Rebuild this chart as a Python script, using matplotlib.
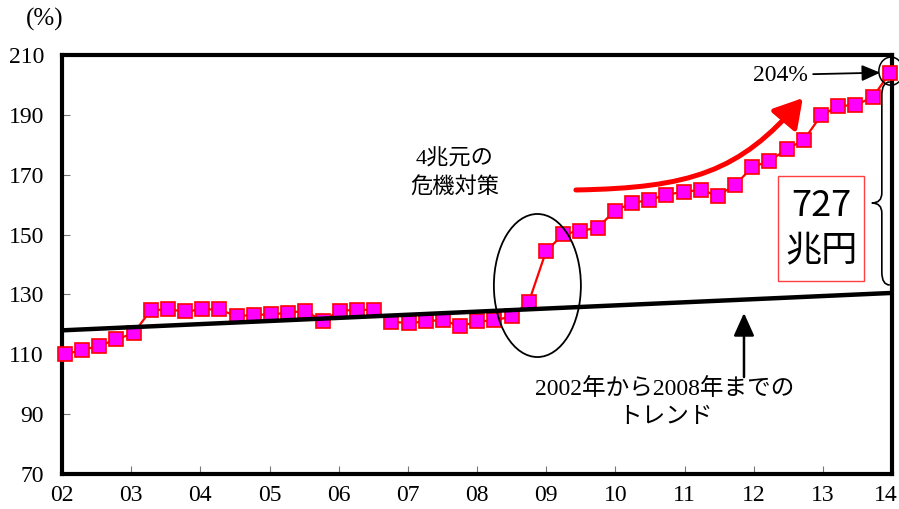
import matplotlib
matplotlib.use("Agg")
import matplotlib.pyplot as plt
import matplotlib.transforms as mtransforms
from matplotlib.patches import Ellipse, Rectangle, FancyArrowPatch, PathPatch
from matplotlib.path import Path

# Debt-to-GDP ratio (%), quarterly from 2002 Q1 to 2014 Q1
debt_ratio = [
    110.0, 111.4, 112.8, 115.0, 117.0, 124.7, 125.0, 124.3, 125.0, 125.0,
    122.7, 123.2, 123.3, 123.9, 124.5, 121.1, 124.6, 124.8, 124.9, 120.9,
    120.4, 121.0, 121.5, 119.3, 121.0, 121.3, 122.7, 127.5, 144.4, 150.1,
    151.3, 152.2, 158.0, 160.5, 161.6, 163.3, 164.3, 164.9, 163.0, 166.6,
    172.5, 174.6, 178.5, 181.6, 189.8, 192.9, 193.3, 195.8, 204.0,
]
quarters = [2002.04 + i * 0.2485 for i in range(len(debt_ratio))]

# Linear trend fitted on 2002-2008, extended to 2014
trend_years = [2002, 2014]
trend_values = [118.0, 130.5]

year_ticks = list(range(2002, 2015))
year_labels = [f"{y % 100:02d}" for y in year_ticks]
y_ticks = list(range(70, 211, 20))

SERIF = ["Liberation Serif", "Noto Sans CJK JP"]
SANS = ["Noto Sans CJK JP", "DejaVu Sans"]

fig = plt.figure(figsize=(8.99, 5.09), dpi=100)
ax = fig.add_axes([62 / 899, 1 - 474 / 509, (892 - 62) / 899, (474 - 55) / 509])

ax.set_xlim(2002, 2014)
ax.set_ylim(70, 210)

for side in ["left", "right", "top", "bottom"]:
    ax.spines[side].set_linewidth(3)
    ax.spines[side].set_color("black")

ax.set_xticks(year_ticks)
ax.set_xticklabels(year_labels)
ax.set_yticks(y_ticks)
ax.tick_params(axis="both", direction="in", length=6, width=0.8, color="#777777",
               labelsize=17)
ax.tick_params(axis="y", pad=13)
ax.tick_params(axis="x", pad=8)
for lab in ax.get_xticklabels() + ax.get_yticklabels():
    lab.set_family(SERIF)
# keep the final year label inside the canvas
last = ax.get_xticklabels()[-1]
last.set_transform(last.get_transform() +
                   mtransforms.ScaledTranslation(-6 / 100, 0, fig.dpi_scale_trans))

# Data series
ax.plot(quarters, debt_ratio, color="red", lw=1.6, marker="s", markersize=10,
        markerfacecolor="#FF00FF", markeredgecolor="red", markeredgewidth=1.2,
        zorder=3, clip_on=False)

# Trend line
ax.plot(trend_years, trend_values, color="black", lw=3.2, zorder=4,
        solid_capstyle="butt")

fig.text(45 / 899, 1 - 19 / 509, "(%)", ha="center", va="center",
         fontsize=18, family=SERIF)

# Stimulus annotation
ax.add_patch(Ellipse((2008.873, 132.98), 1.258, 47.8, fill=False,
                     edgecolor="black", lw=1.3, zorder=5))
ax.text(2007.68, 170.4, "4兆元の\n危機対策", ha="center", va="center",
        fontsize=16, family=SERIF, linespacing=1.45)

# Red rising arrow
red_path = Path([(2009.43, 164.9), (2011.08, 165.6), (2011.80, 170.9), (2012.71, 195.6)],
                [Path.MOVETO, Path.CURVE4, Path.CURVE4, Path.CURVE4])
ax.add_patch(FancyArrowPatch(path=red_path, arrowstyle="-|>,head_length=0.85,head_width=0.5",
                             mutation_scale=20, color="red", lw=3.6,
                             shrinkA=0, shrinkB=0, zorder=5))

# Last-point callout
ax.add_patch(Ellipse((2013.985, 204.6), 0.35, 9.4, fill=False, edgecolor="black",
                     lw=1.1, zorder=6, clip_on=False))
ax.text(2012.38, 203.3, "204%", ha="center", va="center", fontsize=17, family=SERIF)
ax.annotate("", xy=(2013.83, 204.1), xytext=(2012.86, 203.6),
            arrowprops=dict(arrowstyle="-|>,head_length=0.8,head_width=0.35",
                            mutation_scale=14, color="black", lw=1.3,
                            shrinkA=0, shrinkB=0))

# Brace showing the gap above trend
brace = Path(
    [(2013.968, 200.98), (2013.853, 200.98), (2013.853, 196.63),
     (2013.853, 163.89), (2013.853, 160.55), (2013.708, 160.55),
     (2013.853, 160.55), (2013.853, 157.21),
     (2013.853, 137.49), (2013.853, 133.15), (2013.968, 133.15)],
    [Path.MOVETO, Path.CURVE3, Path.CURVE3,
     Path.LINETO, Path.CURVE3, Path.CURVE3,
     Path.CURVE3, Path.CURVE3,
     Path.LINETO, Path.CURVE3, Path.CURVE3])
ax.add_patch(PathPatch(brace, fill=False, edgecolor="black", lw=1.2, zorder=6,
                       clip_on=False))

# Amount box
ax.add_patch(Rectangle((2012.35, 134.5), 1.245, 35.1, facecolor="white",
                       edgecolor="#FF4040", lw=1.0, zorder=6))
ax.text(2012.98, 159.4, "727", ha="center", va="center", fontsize=26,
        family=SANS, zorder=7)
ax.text(2012.98, 144.4, "兆円", ha="center", va="center", fontsize=26,
        family=SANS, zorder=7)

# Trend annotation
ax.annotate("", xy=(2011.86, 123.8), xytext=(2011.86, 102.4),
            arrowprops=dict(arrowstyle="-|>,head_length=1.0,head_width=0.45",
                            mutation_scale=14, color="black", lw=1.8,
                            shrinkA=0, shrinkB=0), zorder=6)
ax.text(2010.72, 93.7, "2002年から2008年までの\nトレンド", ha="center", va="center",
        fontsize=17, family=SERIF, linespacing=1.45)

fig.savefig("out.png", dpi=100)
